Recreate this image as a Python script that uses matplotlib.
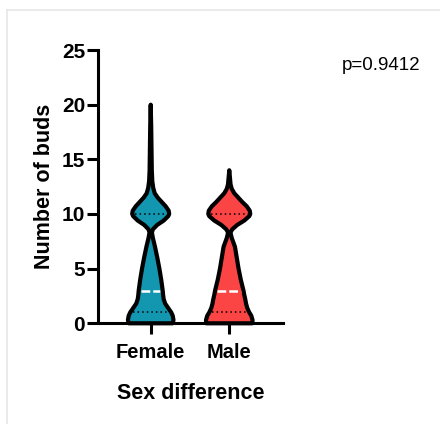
import matplotlib
matplotlib.use('Agg')
import matplotlib.pyplot as plt
from matplotlib.lines import Line2D
import numpy as np

plt.rcParams['font.family'] = ['Liberation Sans', 'DejaVu Sans']

# data
groups = ['Female', 'Male']
colors = ['#1396b0', '#fb4444']

# violin profile (bud count level -> relative density)
female_levels = [0, 0.3, 0.7, 1.0, 1.4, 1.8, 2.2, 2.6, 3, 4, 5, 6, 7, 7.8, 8.3, 8.6,
                 9.0, 9.4, 9.8, 10.0, 10.3, 10.7, 11.1, 11.5, 11.9, 12.4, 13, 14, 16, 18, 20]
female_density = [22, 22.8, 22, 20.5, 17.5, 14.5, 13, 12.4, 12, 10.5, 8.7, 6.6, 4.3, 2.2, 1.2, 2.2,
                  6.5, 13, 17.5, 18.5, 18, 15, 11, 7, 4, 2.5, 1.6, 1.1, 0.8, 0.5, 0]
male_levels = [0, 0.3, 0.7, 1.0, 1.4, 1.8, 2.2, 2.6, 3, 4, 5, 6, 7, 7.8, 8.3, 8.6,
               9.0, 9.4, 9.8, 10.0, 10.3, 10.7, 11.1, 11.5, 11.9, 12.3, 12.7, 13.2, 14]
male_density = [23, 23.3, 22, 20, 18, 16.8, 16, 15, 14.2, 11.5, 9.3, 7.5, 5.7, 2.5, 1.2, 3,
                8, 15, 20, 21, 20.5, 17.5, 13, 9, 5, 2.5, 1.3, 0.8, 0]

medians = [3, 3]
quartiles = [[1, 10], [1, 10]]
p_value = 'p=0.9412'

profiles = [(female_levels, female_density), (male_levels, male_density)]

fig = plt.figure(figsize=(4.4, 4.24), dpi=100)
ax = fig.add_axes([0.2234, 0.2375, 0.4191, 0.6445])

scale = 1 / 78.6  # density -> half width in axis units

for i, (lev, dens) in enumerate(profiles):
    lev = np.array(lev)
    half = np.array(dens) * scale
    xs = np.concatenate([i + half, (i - half)[::-1]])
    ys = np.concatenate([lev, lev[::-1]])
    ax.fill(xs, ys, color=colors[i], lw=0, zorder=2, clip_on=False)
    for q in quartiles[i]:
        w = np.interp(q, lev, half) - 0.03
        ax.plot([i - w, i + w], [q, q], color='black', lw=1.1,
                linestyle=(0, (1, 2)), zorder=3, clip_on=False)
    w = np.interp(medians[i], lev, half) - 0.03
    ax.plot([i - w, i + w], [medians[i], medians[i]], color='white', lw=1.8,
            linestyle=(0, (3.5, 1.2)), zorder=3, clip_on=False)
    ax.fill(xs, ys, facecolor='none', edgecolor='black', lw=3,
            joinstyle='round', zorder=4, clip_on=False)

ax.set_xlim(-0.667, 1.68)
ax.set_ylim(0, 25)
ax.set_yticks([0, 5, 10, 15, 20, 25])
ax.set_xticks([0, 1])
ax.set_xticklabels(groups)

for s in ['top', 'right']:
    ax.spines[s].set_visible(False)
for s in ['left', 'bottom']:
    ax.spines[s].set_linewidth(2.2)

ax.tick_params(axis='both', length=8, width=2.2)
ax.tick_params(axis='y', pad=1.5, labelsize=15)
ax.tick_params(axis='x', pad=6, labelsize=14.5)
for lab in ax.get_xticklabels() + ax.get_yticklabels():
    lab.set_fontweight('bold')

ax.set_ylabel('Number of buds', fontsize=15.5, fontweight='bold', labelpad=5)
ax.set_xlabel('Sex difference', fontsize=15.5, fontweight='bold', labelpad=15)

fig.text(342 / 440, 1 - 70 / 424, p_value, fontsize=13.5, ha='left', va='baseline')

# light frame at top and left
fig.add_artist(Line2D([6.5 / 440, 1], [1 - 9.5 / 424, 1 - 9.5 / 424],
                      color='#e6e6e6', lw=1.2, transform=fig.transFigure))
fig.add_artist(Line2D([6.5 / 440, 6.5 / 440], [0, 1 - 9.5 / 424],
                      color='#e6e6e6', lw=1.2, transform=fig.transFigure))

fig.savefig('out.png', dpi=100)
